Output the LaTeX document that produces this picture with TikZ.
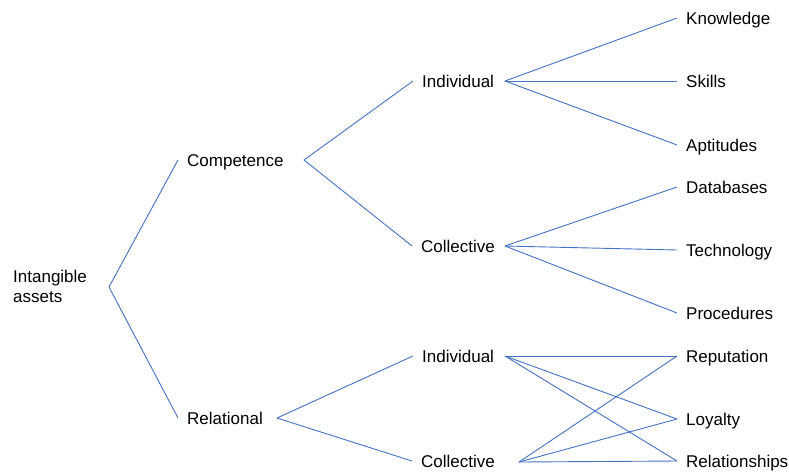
\documentclass[tikz,border=0pt]{standalone}
\usepackage{fontspec}
\setmainfont{Liberation Sans}
\usetikzlibrary{positioning}
\definecolor{treeblue}{RGB}{68,114,196}

\begin{document}
\begin{tikzpicture}[x=1pt, y=-1pt,
    every node/.style={font=\fontsize{17}{20}\selectfont, text=black},
    lbl/.style={anchor=west, inner xsep=9pt, inner ysep=0pt, text height=13pt, text depth=0.8pt},
    link/.style={draw=treeblue, line width=0.9pt}]

        \useasboundingbox (0,0) rectangle (789,475);

        % Root
        \node[anchor=west, inner sep=0pt, align=left] (intang) at (13,286) {Intangible\\assets};

        % First level
        \node[lbl] (comp) at (178,160) {Competence};
        \node[lbl] (rel) at (178,418) {Relational};

        % Second level
        \node[lbl] (ind1) at (413,81) {Individual};
        \node[lbl] (col1) at (412,246) {Collective};
        \node[lbl] (ind2) at (413,356) {Individual};
        \node[lbl] (col2) at (412,461) {Collective};

        % Leaves
        \node[lbl] (know) at (677,18) {Knowledge};
        \node[lbl] (skill) at (677,81) {Skills};
        \node[lbl] (apt) at (677,145) {Aptitudes};
        \node[lbl] (db) at (677,187) {Databases};
        \node[lbl] (tech) at (677,250) {Technology};
        \node[lbl] (proc) at (677,313) {Procedures};
        \node[lbl] (rep) at (677,356) {Reputation};
        \node[lbl] (loy) at (677,419) {Loyalty};
        \node[lbl] (relsh) at (677,461) {Relationships};

        % Branch points
        \coordinate (intang-r) at (109,287);
        \coordinate (comp-r) at (304,160);
        \coordinate (rel-r) at (277,418);
        \coordinate (ind1-r) at (505,81);
        \coordinate (col1-r) at (505,246);
        \coordinate (ind2-r) at (505,356);
        \coordinate (col2-r) at (519,462);

        % Connectors
        \foreach \a/\b in {intang-r/comp, intang-r/rel,
                comp-r/ind1, comp-r/col1, rel-r/ind2, rel-r/col2,
                ind1-r/know, ind1-r/skill, ind1-r/apt,
                col1-r/db, col1-r/tech, col1-r/proc,
                ind2-r/rep, ind2-r/loy, ind2-r/relsh,
                col2-r/rep, col2-r/loy, col2-r/relsh}
            \draw[link] (\a) -- (\b.west);

    \end{tikzpicture}
\end{document}
